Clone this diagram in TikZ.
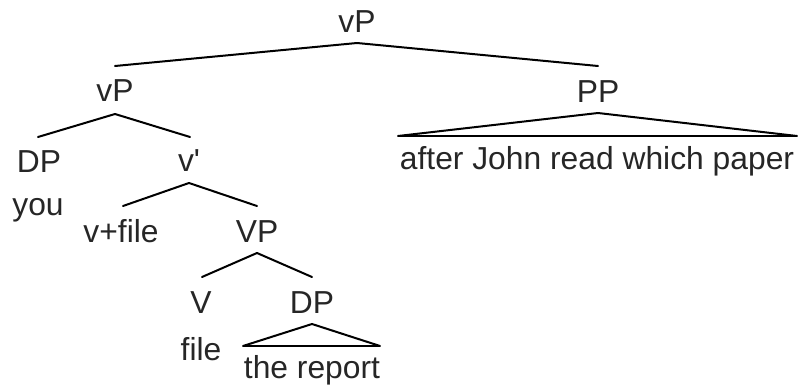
\documentclass[tikz,border=0pt]{standalone}
\usepackage{fontspec}
\setmainfont{Liberation Sans}
\begin{document}
\begin{tikzpicture}[x=1pt,y=-1pt,
  lbl/.style={anchor=base,inner sep=0pt,font=\fontsize{31.8}{36}\selectfont,text=black!85},
  branch/.style={line width=2pt,line cap=round,line join=round},
  base/.style={line width=1.4pt}]
\useasboundingbox (0,0) rectangle (798,390);

% category labels and words (placed on their baselines)
\node[lbl] (vp0)  at (357,33)  {vP};
\node[lbl] (vp1)  at (115,102) {vP};
\node[lbl] (pp)   at (598,103) {PP};
\node[lbl] (words)at (597,170) {after John read which paper};
\node[lbl] (dp1)  at (39,173)  {DP};
\node[lbl] (vbar) at (189,172) {v\textquotesingle};
\node[lbl] (you)  at (38,216)  {you};
\node[lbl] (vfile)at (121,243) {v+file};
\node[lbl] (vp2)  at (257,243) {VP};
\node[lbl] (v)    at (201,313) {V};
\node[lbl] (dp2)  at (312,313) {DP};
\node[lbl] (file) at (201,360) {file};
\node[lbl] (rep)  at (312,378) {the report};

% branching points and branch ends
\coordinate (a0) at (357,43);  \coordinate (a0l) at (115,66);  \coordinate (a0r) at (598,66);
\coordinate (a1) at (115,114); \coordinate (a1l) at (38,137);  \coordinate (a1r) at (190,137);
\coordinate (a2) at (189,183); \coordinate (a2l) at (123,206); \coordinate (a2r) at (257,206);
\coordinate (a3) at (257,253); \coordinate (a3l) at (202,277); \coordinate (a3r) at (312,277);
\coordinate (t1) at (598,113); \coordinate (t1l) at (398,136); \coordinate (t1r) at (797,136);
\coordinate (t2) at (312,324); \coordinate (t2l) at (243,346); \coordinate (t2r) at (380,346);

% binary branches
\draw[branch] (a0l) -- (a0) -- (a0r);
\draw[branch] (a1l) -- (a1) -- (a1r);
\draw[branch] (a2l) -- (a2) -- (a2r);
\draw[branch] (a3l) -- (a3) -- (a3r);

% triangles over unanalysed phrases
\draw[branch] (t1l) -- (t1) -- (t1r);
\draw[base] (t1l) -- (t1r);
\draw[branch] (t2l) -- (t2) -- (t2r);
\draw[base] (t2l) -- (t2r);
\end{tikzpicture}
\end{document}
